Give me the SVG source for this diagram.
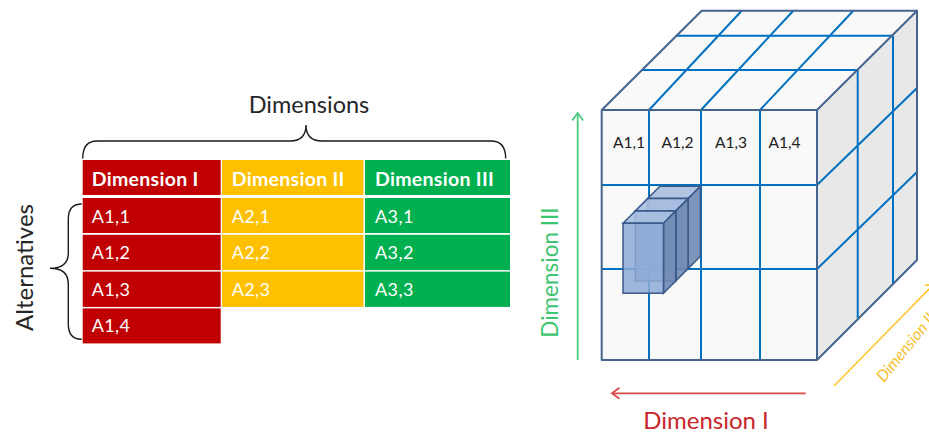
<svg xmlns="http://www.w3.org/2000/svg" width="929" height="434" viewBox="0 0 929 434">
<style>
  text { font-family: Lato, "Liberation Sans", sans-serif; }
  .brace { fill: none; stroke: #1a1a1a; stroke-width: 1.4; }
  .lbl { font-size: 23.5px; fill: #262626; }
  .hdr { font-size: 19.5px; font-weight: bold; fill: #ffffff; letter-spacing: 0.3px; }
  .cell { font-size: 18px; fill: #ffffff; letter-spacing: 0.4px; }
  .red { fill: #c00000; }
  .yel { fill: #ffc000; }
  .grn { fill: #00b050; }
  .grid { stroke: #0070c0; stroke-width: 2; fill: none; }
  .edge { stroke: #44648f; stroke-width: 2; fill: none; stroke-linejoin: round; }
  .bfront { fill: #8eaad6; fill-opacity: 0.85; stroke: #3a5a8a; stroke-width: 1.5; }
  .btop { fill: #a8bfe0; fill-opacity: 0.9; stroke: #3a5a8a; stroke-width: 1.5; }
  .bright { fill: #6f8ab3; fill-opacity: 0.9; stroke: #3a5a8a; stroke-width: 1.5; }
  .cl { font-size: 15.5px; fill: #222; text-anchor: middle; }
</style>
<defs>
  <marker id="ahG" markerUnits="userSpaceOnUse" markerWidth="14" markerHeight="14" viewBox="-9 -7 11 14" refX="0" refY="0" orient="auto">
    <path d="M-7.5,-5.5 L0,0 L-7.5,5.5" fill="none" stroke="#4cc97c" stroke-width="1.8"/>
  </marker>
  <marker id="ahR" markerUnits="userSpaceOnUse" markerWidth="14" markerHeight="14" viewBox="-9 -7 11 14" refX="0" refY="0" orient="auto">
    <path d="M-7.5,-5.5 L0,0 L-7.5,5.5" fill="none" stroke="#dd4a4a" stroke-width="1.8"/>
  </marker>
  <marker id="ahY" markerUnits="userSpaceOnUse" markerWidth="14" markerHeight="14" viewBox="-9 -7 11 14" refX="0" refY="0" orient="auto">
    <path d="M-7.5,-5.5 L0,0 L-7.5,5.5" fill="none" stroke="#ffc62a" stroke-width="1.6"/>
  </marker>
</defs>

<!-- Left: table of dimensions and alternatives -->
<g id="dimensions-label">
  <text class="lbl" x="309" y="113" text-anchor="middle">Dimensions</text>
  <path class="brace" d="M82.7,158.5 Q82.7,141 97,141 L290,141 Q306,141 306,125 Q306,141 322,141 L491,141 Q505.7,141 505.7,158.5"/>
</g>
<g id="alternatives-label">
  <text class="lbl" transform="translate(32.5,267.5) rotate(-90)" text-anchor="middle" style="font-size:24px">Alternatives</text>
  <path class="brace" d="M81.7,204 Q68.3,204 68.3,219 L68.3,253 Q68.3,268.3 50,268.3 Q68.3,268.3 68.3,284 L68.3,324 Q68.3,339.3 81.7,339.3"/>
</g>
<g id="col-dimension-1">
  <rect class="red" x="82.7" y="160" width="138" height="35"/>
  <text class="hdr" x="91.7" y="186">Dimension I</text>
  <rect class="red" x="82.7" y="198" width="138" height="35"/>
  <text class="cell" x="91.7" y="222.7">A1,1</text>
  <rect class="red" x="82.7" y="234.8" width="138" height="35.3"/>
  <text class="cell" x="91.7" y="259">A1,2</text>
  <rect class="red" x="82.7" y="271.6" width="138" height="35.3"/>
  <text class="cell" x="91.7" y="295.7">A1,3</text>
  <rect class="red" x="82.7" y="308.4" width="138" height="35"/>
  <text class="cell" x="91.7" y="331.7">A1,4</text>
</g>
<g id="col-dimension-2">
  <rect class="yel" x="222" y="160" width="141.5" height="35"/>
  <text class="hdr" x="231.7" y="186">Dimension II</text>
  <rect class="yel" x="222" y="198" width="141.5" height="35"/>
  <text class="cell" x="231.7" y="222.7">A2,1</text>
  <rect class="yel" x="222" y="234.8" width="141.5" height="35.3"/>
  <text class="cell" x="231.7" y="259">A2,2</text>
  <rect class="yel" x="222" y="271.6" width="141.5" height="35.3"/>
  <text class="cell" x="231.7" y="295.7">A2,3</text>
</g>
<g id="col-dimension-3">
  <rect class="grn" x="365" y="160" width="145" height="35"/>
  <text class="hdr" x="375" y="186">Dimension III</text>
  <rect class="grn" x="365" y="198" width="145" height="35"/>
  <text class="cell" x="375" y="222.7">A3,1</text>
  <rect class="grn" x="365" y="234.8" width="145" height="35.3"/>
  <text class="cell" x="375" y="259">A3,2</text>
  <rect class="grn" x="365" y="271.6" width="145" height="35.3"/>
  <text class="cell" x="375" y="295.7">A3,3</text>
</g>

<!-- Right: cube -->
<g id="cube">
  <polygon points="817,110 917,10.7 917,260 817,360" fill="#e8e8e8"/>
  <polygon points="601.7,110 701.7,10.7 917,10.7 817,110" fill="#f9f9f9"/>
  <rect x="601.7" y="110" width="215.3" height="250" fill="#f9f9f9"/>
  <path class="grid" d="M649,110 V360 M701,110 V360 M760,110 V360 M601.7,185 H817 M601.7,269 H817"/>
  <path class="grid" d="M641.7,70 H857.7 M676.7,35.7 H893 M649,110 L741.7,10.7 M701,110 L793.3,10.7 M760,110 L853.3,10.7"/>
  <path class="grid" d="M857.7,70 V318 M893,35.7 V284 M817,185 L917,88 M817,269 L917,172"/>
  <path class="edge" d="M601.7,110 H817 V360 H601.7 Z M601.7,110 L701.7,10.7 H917 V260 L817,360 M817,110 L917,10.7"/>
  <text class="cl" x="629" y="148">A1,1</text>
  <text class="cl" x="677.5" y="148">A1,2</text>
  <text class="cl" x="731" y="148">A1,3</text>
  <text class="cl" x="784.5" y="148">A1,4</text>
</g>
<g id="selected-cells">
  <polygon class="btop" points="647.6,198.6 659.9,186.3 700.4,186.3 688.1,198.6"/>
  <polygon class="bright" points="688.1,198.6 700.4,186.3 700.4,256.3 688.1,268.6"/>
  <rect class="bfront" x="647.6" y="198.6" width="40.5" height="70"/>
  <polygon class="btop" points="635.3,210.9 647.6,198.6 688.1,198.6 675.8,210.9"/>
  <polygon class="bright" points="675.8,210.9 688.1,198.6 688.1,268.6 675.8,280.9"/>
  <rect class="bfront" x="635.3" y="210.9" width="40.5" height="70"/>
  <polygon class="btop" points="623,223.2 635.3,210.9 675.8,210.9 663.5,223.2"/>
  <polygon class="bright" points="663.5,223.2 675.8,210.9 675.8,280.9 663.5,293.2"/>
  <rect class="bfront" x="623" y="223.2" width="40.5" height="70"/>
</g>

<g id="connectors">
  <line x1="577.7" y1="360" x2="577.7" y2="113" stroke="#4cc97c" stroke-width="1.8" marker-end="url(#ahG)"/>
  <line x1="805.7" y1="393.3" x2="612" y2="393.3" stroke="#dd4a4a" stroke-width="1.8" marker-end="url(#ahR)"/>
  <line x1="834" y1="386" x2="934" y2="284" stroke="#ffc62a" stroke-width="1.6" marker-end="url(#ahY)"/>
</g>
<g id="axis-labels">
  <text transform="translate(558,272.5) rotate(-90)" text-anchor="middle" style="font-size:22.5px;fill:#3cc46e">Dimension III</text>
  <text x="706" y="429" text-anchor="middle" style="font-size:24px;fill:#c8262c">Dimension I</text>
  <text transform="translate(884,383) rotate(-51)" style="font-size:16px;font-style:italic;fill:#f5c030">Dimension II</text>
</g>
</svg>
